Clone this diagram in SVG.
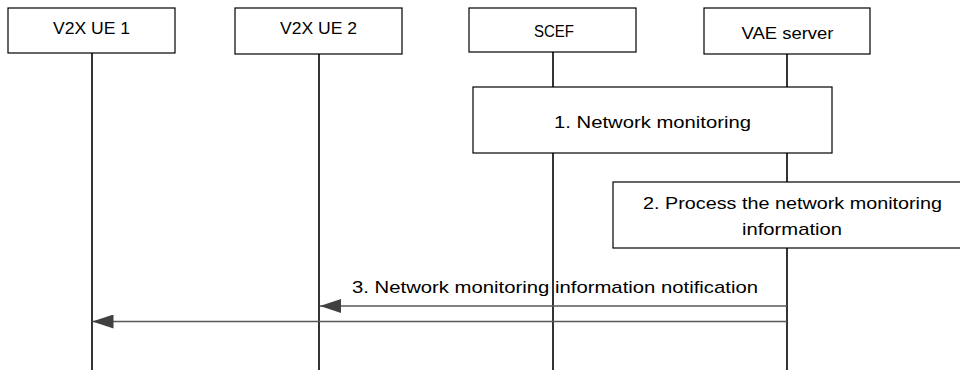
<svg xmlns="http://www.w3.org/2000/svg" width="960" height="370" viewBox="0 0 960 370">
<defs>
<style>
.box{fill:#fff;stroke:#000;stroke-width:1.2}
.life{stroke:#000;stroke-width:1.6}
.msg{stroke:#595959;stroke-width:1.6;fill:none}
text{font-family:"Liberation Sans",Arial,sans-serif;font-size:16px;fill:#000}
.step{font-size:17px}
</style>
<marker id="ah" viewBox="0 0 21 14" refX="21" refY="7" markerWidth="21" markerHeight="14" markerUnits="userSpaceOnUse" orient="auto">
<path d="M0,0 L21,7 L0,14 Z" fill="#404040"/>
</marker>
</defs>
<g id="lifelines">
<line class="life" x1="92" y1="53" x2="92" y2="370"/>
<line class="life" x1="319" y1="54" x2="319" y2="370"/>
<line class="life" x1="553" y1="52" x2="553" y2="370"/>
<line class="life" x1="787" y1="54" x2="787" y2="370"/>
</g>
<g id="ue1">
<rect class="box" x="8" y="8" width="167" height="45"/>
<text x="91.5" y="33.5" text-anchor="middle" textLength="77" lengthAdjust="spacingAndGlyphs">V2X UE 1</text>
</g>
<g id="ue2">
<rect class="box" x="235" y="8" width="167" height="46"/>
<text x="318.5" y="34" text-anchor="middle" textLength="77" lengthAdjust="spacingAndGlyphs">V2X UE 2</text>
</g>
<g id="scef">
<rect class="box" x="469" y="8" width="167" height="44"/>
<text x="554" y="37" text-anchor="middle" textLength="40" lengthAdjust="spacingAndGlyphs">SCEF</text>
</g>
<g id="vae">
<rect class="box" x="704" y="8" width="166" height="46"/>
<text x="787.5" y="38.5" text-anchor="middle" textLength="92" lengthAdjust="spacingAndGlyphs">VAE server</text>
</g>
<g id="step1">
<rect class="box" x="473" y="87" width="359" height="66"/>
<text class="step" x="652.5" y="128.3" text-anchor="middle" textLength="197" lengthAdjust="spacingAndGlyphs">1. Network monitoring</text>
</g>
<g id="step2">
<rect class="box" x="613" y="182" width="358" height="66"/>
<text class="step" x="792.5" y="209.3" text-anchor="middle" textLength="299" lengthAdjust="spacingAndGlyphs">2. Process the network monitoring</text>
<text class="step" x="792" y="235" text-anchor="middle" textLength="100" lengthAdjust="spacingAndGlyphs">information</text>
</g>
<g id="connectors">
<line class="msg" x1="787" y1="306" x2="320" y2="306" marker-end="url(#ah)"/>
<line class="msg" x1="787" y1="321.5" x2="92.5" y2="321.5" marker-end="url(#ah)"/>
<text class="step" x="555" y="293.3" text-anchor="middle" textLength="406" lengthAdjust="spacingAndGlyphs">3. Network monitoring information notification</text>
</g>
</svg>
